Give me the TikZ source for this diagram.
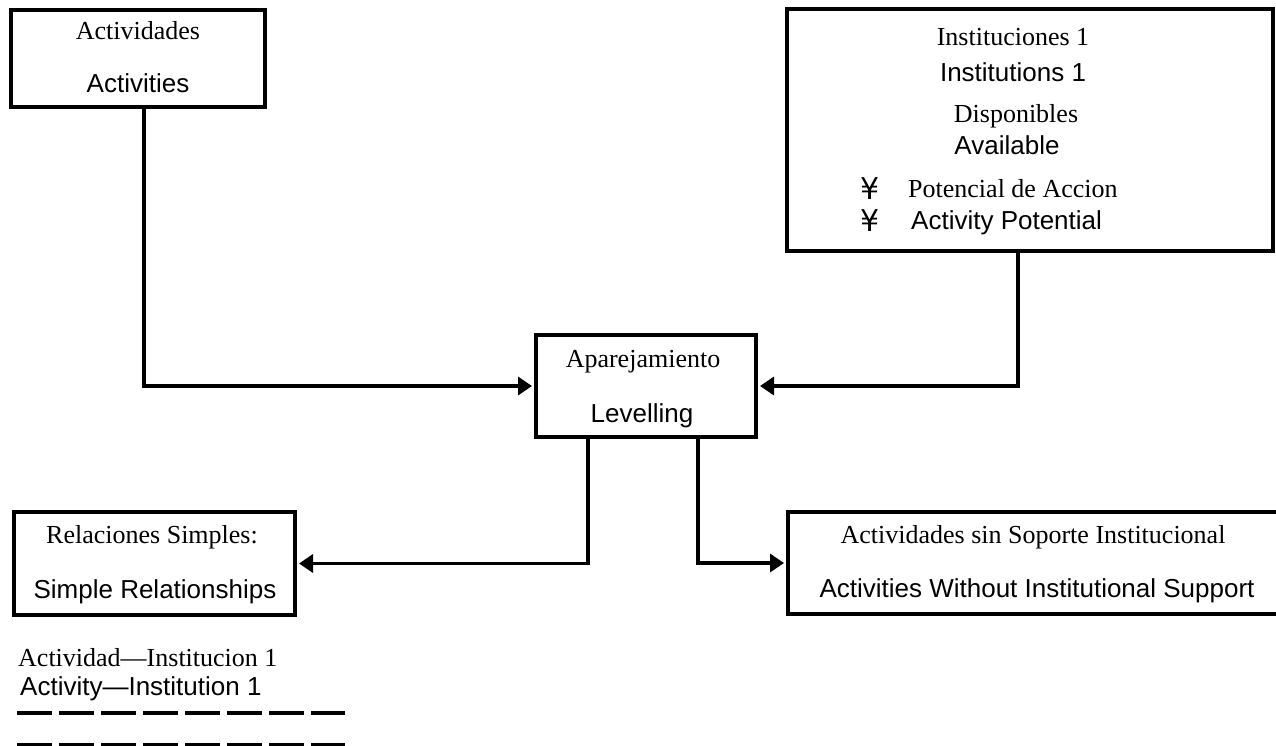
\documentclass[tikz,border=0pt]{standalone}
\usepackage{fontspec}
\setmainfont{Liberation Serif}
\newfontfamily\sfx{Liberation Sans}
\newfontfamily\symf{DejaVu Sans}
\usetikzlibrary{arrows.meta}
\begin{document}
\begin{tikzpicture}[x=1pt,y=-1pt,
  box/.style={draw,line width=3.4pt,inner sep=0pt,outer sep=0pt,anchor=north west},
  es/.style={font=\fontsize{26}{30}\selectfont,inner sep=0pt,anchor=base},
  en/.style={font=\sfx\fontsize{26}{30}\selectfont,inner sep=0pt,anchor=base},
  sym/.style={font=\symf\fontsize{30}{34}\selectfont,inner sep=0pt,anchor=base},
  conn/.style={line width=3.4pt,shorten >=4pt,-{Triangle[length=14pt,width=18pt]}},
  dashline/.style={line width=4pt,dash pattern=on 35pt off 7pt}]
\clip (0,0) rectangle (1276,745);
\fill[white] (0,0) rectangle (1276,745);
% boxes
\node[box,minimum width=254pt,minimum height=97pt] (act) at (11,10) {};
\node[box,minimum width=486pt,minimum height=242pt] (inst) at (787,9) {};
\node[box,minimum width=220pt,minimum height=102pt] (apa) at (536,335) {};
\node[box,minimum width=281pt,minimum height=103pt] (rel) at (14,512) {};
\node[box,minimum width=500pt,minimum height=102pt] (sin) at (788,512) {};
% texts
\node[es] (t1) at (138,39) {Actividades};
\node[en] (t2) at (138,92) {Activities};
\node[es] (t3) at (1013,45) {Instituciones 1};
\node[en] (t4) at (1013,81) {Institutions 1};
\node[es] (t5) at (1016,122) {Disponibles};
\node[en] (t6) at (1007,154) {Available};
\node[sym] (s1) at (870,199) {¥};
\node[es,anchor=base west] (t7) at (908,197) {Potencial de Accion};
\node[sym] (s2) at (870,231) {¥};
\node[en,anchor=base west] (t8) at (911,229) {Activity Potential};
\node[es] (t9) at (643,367) {Aparejamiento};
\node[en] (t10) at (642,422) {Levelling};
\node[es] (t11) at (152,543) {Relaciones Simples:};
\node[en] (t12) at (155,598) {Simple Relationships};
\node[es] (t13) at (1033,543) {Actividades sin Soporte Institucional};
\node[en] (t14) at (1037,597) {Activities Without Institutional Support};
\node[es,anchor=base west] (t15) at (18,666) {Actividad—Institucion 1};
\node[en,anchor=base west] (t16) at (20,695) {Activity—Institution 1};
% connectors
\draw[conn] ([xshift=6pt]act.south) |- (apa.west);
\draw[conn] ([xshift=-12pt]inst.south) |- (apa.east);
\draw[conn] ([xshift=-58pt]apa.south) |- (rel.east);
\draw[conn] ([xshift=52pt]apa.south) |- (sin.west);
% dashed rules
\coordinate (d1a) at (17,713);
\coordinate (d1b) at (345,713);
\coordinate (d2a) at (17,746);
\coordinate (d2b) at (345,746);
\draw[dashline] (d1a) -- (d1b);
\draw[dashline,line width=6pt] (d2a) -- (d2b);
\end{tikzpicture}
\end{document}
